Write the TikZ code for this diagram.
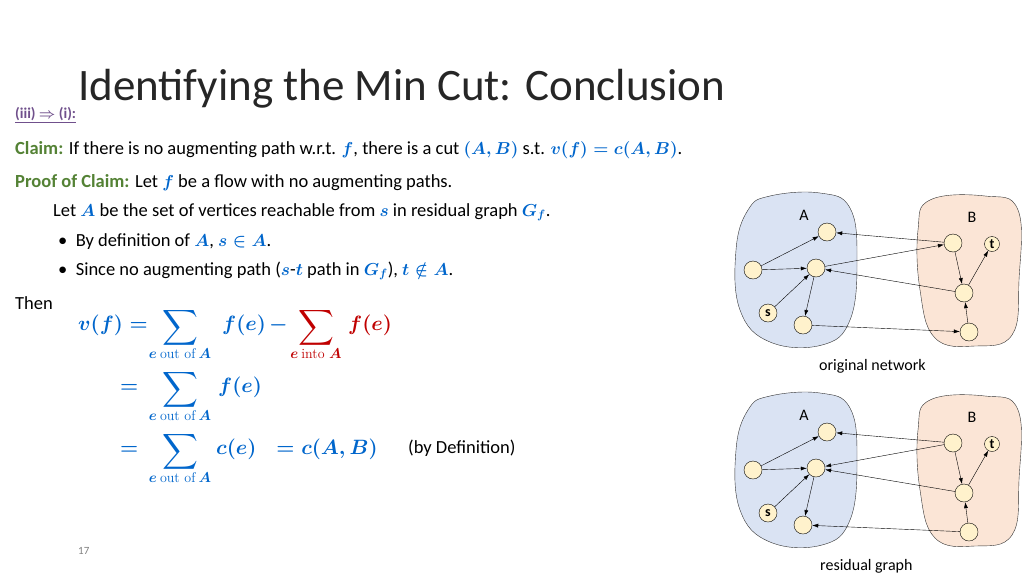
\documentclass[tikz,border=0pt]{standalone}
\usepackage{amsmath}
\usepackage{fontspec}
\setmainfont{Carlito}
\newfontfamily\lmr{Latin Modern Roman}
\usetikzlibrary{arrows.meta}
\definecolor{mblue}{RGB}{0,102,204}
\definecolor{cgreen}{RGB}{84,130,53}
\definecolor{cpurp}{RGB}{112,80,140}
\definecolor{mred}{RGB}{192,0,0}
\definecolor{blobA}{RGB}{218,227,243}
\definecolor{blobB}{RGB}{251,229,214}
\definecolor{vfill}{RGB}{255,242,204}
\tikzset{
 txt/.style={anchor=base west,inner sep=0pt,font=\fontsize{18.5}{20}\selectfont},
 mtxt/.style={anchor=base west,inner sep=0pt,font=\fontsize{20}{22}\selectfont},
 sumsym/.style={anchor=base,inner sep=0pt,font=\fontsize{26}{28}\selectfont},
 sub/.style={anchor=base,inner sep=0pt,font=\fontsize{14}{15}\selectfont},
 vtx/.style={circle,draw=black,fill=vfill,minimum size=18pt,inner sep=0pt,font=\fontsize{14}{14}\selectfont\bfseries},
 arr/.style={-{Latex[length=6pt,width=4pt]},thin},
 lab/.style={font=\fontsize{16}{18}\selectfont,inner sep=0pt,anchor=base}
}
\newcommand{\mb}[1]{\textcolor{mblue}{\boldmath$#1$}}
\newcommand{\graphpic}[2]{%
\begin{scope}[yshift=#1]
 \draw[fill=blobA,draw=black!80] plot[smooth cycle,tension=0.7] coordinates{(770,196)(820,193)(850,208)(857,260)(850,320)(822,345)(770,342)(740,310)(736,250)(748,210)};
 \draw[fill=blobB,draw=black!80] plot[smooth cycle,tension=0.7] coordinates{(930,200)(985,196)(1018,210)(1019,280)(1012,335)(975,346)(935,338)(920,290)(918,230)};
 \node[lab] at (804,220) {A};
 \node[lab] at (972,222) {B};
 \node[vtx] (a1) at (827,232) {};
 \node[vtx] (a2) at (753,270) {};
 \node[vtx] (a3) at (816,268) {};
 \node[vtx] (s) at (768,313) {s};
 \node[vtx] (a4) at (803,325) {};
 \node[vtx] (b1) at (953,243) {};
 \node[vtx,minimum size=15pt] (t) at (992,244) {t};
 \node[vtx] (b2) at (964,293) {};
 \node[vtx] (b3) at (969,332) {};
 \draw[arr] (a2)--(a1); \draw[arr] (a2)--(a3); \draw[arr] (s)--(a3);
 \draw[arr] (a3)--(a4); \draw[arr] (b1)--(a1); \draw[arr] (b2)--(a3);
 \draw[arr] (b1)--(b2); \draw[arr] (b2)--(t); \draw[arr] (b3)--(b2);
 #2
\end{scope}}
\begin{document}
\begin{tikzpicture}[x=1pt,y=-1pt]
\useasboundingbox[fill=white] (0,0) rectangle (1024,576);
\node[anchor=base west,inner sep=0pt,font=\fontsize{45}{48}\selectfont,text=black!85] (title) at (78,100) {Identifying the Min Cut: Conclusion};
\node[anchor=base west,inner sep=0pt,font=\fontsize{15}{17}\selectfont\bfseries,text=cpurp] (iii) at (15,118) {\underline{(iii) {\boldmath$\Rightarrow$} (i):}};
\node[txt] (claim) at (15,154) {\textcolor{cgreen}{\textbf{Claim:}} If there is no augmenting path w.r.t. \mb{f}, there is a cut \mb{(A,B)} s.t. \mb{v(f)=c(A,B)}.};
\node[txt] (proof) at (15,187) {\textcolor{cgreen}{\textbf{Proof of Claim:}} Let \mb{f} be a flow with no augmenting paths.};
\node[txt] (let) at (53,216) {Let \mb{A} be the set of vertices reachable from \mb{s} in residual graph \mb{G_f}.};
\node[txt] (b1t) at (58,246) {\textbullet\ \ By definition of \mb{A}, \mb{s\in A}.};
\node[txt] (b2t) at (58,275) {\textbullet\ \ Since no augmenting path (\mb{s}-\mb{t} path in \mb{G_f}), \mb{t\notin A}.};
\node[txt] (then) at (15,309) {Then};
% row 1
\node[mtxt] (vf) at (78,330) {\mb{v(f)=}};
\node[sumsym] (s1) at (180,334) {\textcolor{mblue}{$\displaystyle\sum$}};
\node[sub] (u1) at (180,358) {\mb{e}\ \textcolor{mblue}{\lmr out of} \mb{A}};
\node[mtxt] (fe1) at (222,330) {\mb{f(e)}\,\mb{-}};
\node[sumsym] (s2) at (316,334) {\textcolor{mred}{$\displaystyle\sum$}};
\node[sub] (u2) at (316,358) {\textcolor{mred}{\boldmath$e$ \lmr into \boldmath$A$}};
\node[mtxt] (fe2) at (348,330) {\textcolor{mred}{\boldmath$f(e)$}};
% row 2
\node[mtxt] (eq2) at (120,392) {\mb{=}};
\node[sumsym] (s3) at (180,396) {\textcolor{mblue}{$\displaystyle\sum$}};
\node[sub] (u3) at (180,420) {\mb{e}\ \textcolor{mblue}{\lmr out of} \mb{A}};
\node[mtxt] (fe3) at (218,392) {\mb{f(e)}};
% row 3
\node[mtxt] (eq3) at (120,454) {\mb{=}};
\node[sumsym] (s4) at (180,458) {\textcolor{mblue}{$\displaystyle\sum$}};
\node[sub] (u4) at (180,482) {\mb{e}\ \textcolor{mblue}{\lmr out of} \mb{A}};
\node[mtxt] (ce) at (216,454) {\mb{c(e)}\quad\mb{=c(A,B)}};
\node[txt] (bydef) at (408,453) {(by Definition)};
\node[anchor=base west,inner sep=0pt,font=\fontsize{11}{12}\selectfont,text=black!50] (pg) at (78,554) {17};
\graphpic{0pt}{\draw[arr] (a3)--(b1); \draw[arr] (a4)--(b3);}
\node[lab,anchor=base west] (on) at (819,370) {original network};
\graphpic{-200pt}{\draw[arr] (b1)--(a3); \draw[arr] (b3)--(a4);}
\node[lab,anchor=base west] (rg) at (820,570) {residual graph};
\end{tikzpicture}
\end{document}
